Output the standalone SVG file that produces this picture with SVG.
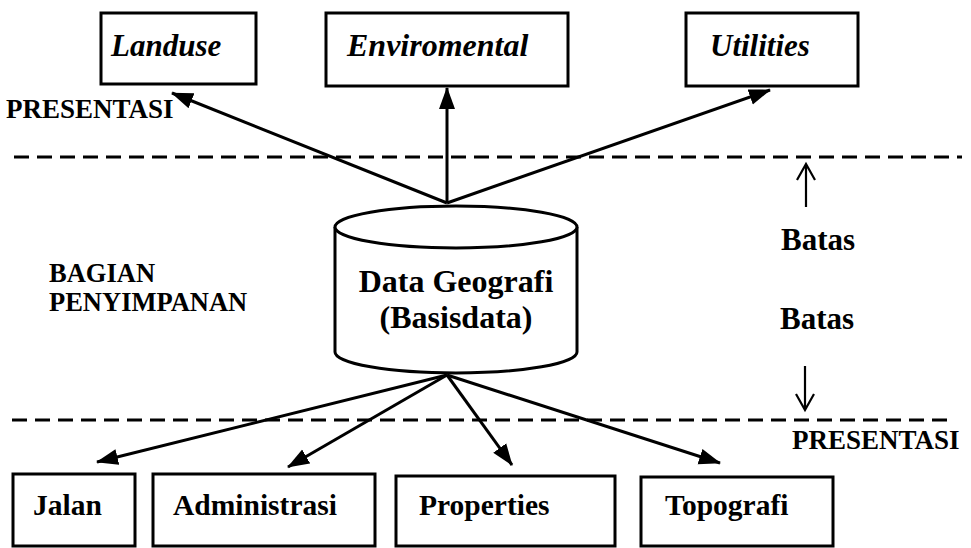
<svg xmlns="http://www.w3.org/2000/svg" width="971" height="548" viewBox="0 0 971 548">
<style>
.box{fill:#fff;stroke:#000;stroke-width:3}
.t{font-family:"Liberation Serif","Tinos","DejaVu Serif",serif;font-weight:bold;fill:#000}
.it{font-style:italic}
.conn{stroke:#000;stroke-width:3;fill:none}
.dash{stroke:#000;stroke-width:3;stroke-dasharray:15 8;fill:none}
.thin{stroke:#000;stroke-width:2.2;fill:none}
</style>
<defs>
<marker id="ah" markerUnits="userSpaceOnUse" markerWidth="22" markerHeight="18" refX="21" refY="8" orient="auto" viewBox="0 0 22 16">
<path d="M0,0 L22,8 L0,16 z" fill="#000"/>
</marker>
</defs>
<rect width="971" height="548" fill="#fff"/>
<g id="n-landuse"><rect class="box" x="101" y="13" width="155" height="71"/><text class="t it" x="111" y="56" font-size="31">Landuse</text></g>
<g id="n-enviromental"><rect class="box" x="326" y="13" width="242" height="73"/><text class="t it" x="347" y="56" font-size="32">Enviromental</text></g>
<g id="n-utilities"><rect class="box" x="686" y="13" width="172" height="73"/><text class="t it" x="710" y="56" font-size="31">Utilities</text></g>
<g id="n-db">
<path class="box" d="M335,227 L335,352 A121,21 0 0 0 577,352 L577,227"/>
<ellipse class="box" cx="456" cy="227" rx="121" ry="21"/>
<text class="t" x="456" y="292" font-size="32" text-anchor="middle">Data Geografi</text>
<text class="t" x="456" y="328" font-size="32" text-anchor="middle">(Basisdata)</text>
</g>
<g id="n-jalan"><rect class="box" x="13" y="474" width="122" height="72"/><text class="t" x="33" y="515" font-size="29.5">Jalan</text></g>
<g id="n-administrasi"><rect class="box" x="153" y="474" width="222" height="72"/><text class="t" x="173" y="515" font-size="29.5">Administrasi</text></g>
<g id="n-properties"><rect class="box" x="396" y="476" width="219" height="70"/><text class="t" x="419" y="515" font-size="29.5">Properties</text></g>
<g id="n-topografi"><rect class="box" x="641" y="477" width="192" height="69"/><text class="t" x="665" y="515" font-size="29.5">Topografi</text></g>
<g id="labels">
<text class="t" x="6" y="118" font-size="27">PRESENTASI</text>
<text class="t" x="792" y="449" font-size="27">PRESENTASI</text>
<text class="t" x="49" y="282" font-size="26.5">BAGIAN</text>
<text class="t" x="49" y="311" font-size="26.5">PENYIMPANAN</text>
<text class="t" x="781" y="250" font-size="31">Batas</text>
<text class="t" x="780" y="329" font-size="31">Batas</text>
</g>
<g id="connectors">
<line class="dash" x1="14" y1="157" x2="962" y2="157"/>
<line class="dash" x1="12" y1="420" x2="950" y2="420"/>
<line class="conn" x1="447" y1="203" x2="172" y2="93" marker-end="url(#ah)"/>
<line class="conn" x1="447" y1="203" x2="447" y2="88" marker-end="url(#ah)"/>
<line class="conn" x1="447" y1="203" x2="770" y2="90" marker-end="url(#ah)"/>
<line class="conn" x1="447" y1="375" x2="97" y2="462" marker-end="url(#ah)"/>
<line class="conn" x1="447" y1="375" x2="288" y2="467" marker-end="url(#ah)"/>
<line class="conn" x1="447" y1="375" x2="512" y2="465" marker-end="url(#ah)"/>
<line class="conn" x1="447" y1="375" x2="720" y2="463" marker-end="url(#ah)"/>
<path class="thin" d="M806,207 L806,164 M797,180 L806,164 L815,180"/>
<path class="thin" d="M805,366 L805,410 M796,394 L805,410 L814,394"/>
</g>
</svg>
